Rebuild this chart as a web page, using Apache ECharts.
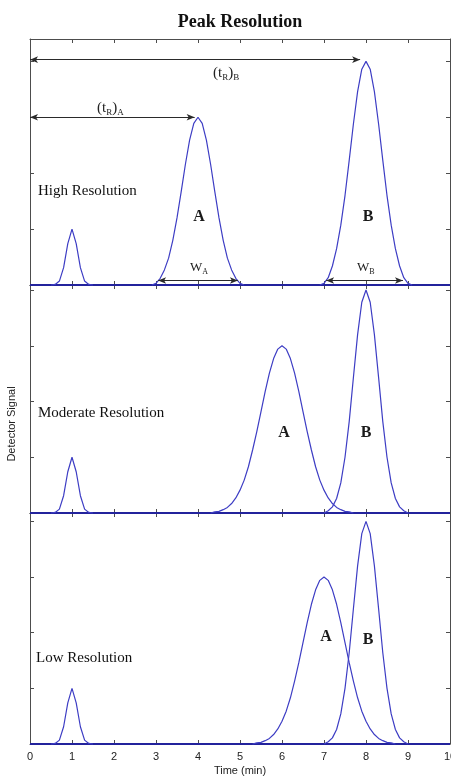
<!DOCTYPE html>
<html>
<head>
<meta charset="utf-8">
<script src="https://cdn.jsdelivr.net/npm/echarts@6/dist/echarts.min.js"></script>
<style>
  html, body { margin: 0; padding: 0; background: #fff; }
  #chart { width: 451px; height: 777px; }
</style>
</head>
<body>
<div id="chart"></div>
<script>
// unretained solute peak, same in all three panels
const peakT0 = [[0.5, 0], [0.6, 0.01], [0.7, 0.07], [0.8, 0.31], [0.9, 0.74], [1.0, 1.0],
  [1.1, 0.74], [1.2, 0.31], [1.3, 0.07], [1.4, 0.01], [1.5, 0]];

// high resolution panel
const highA = [[2.9, 0], [3.0, 0.03], [3.1, 0.12], [3.2, 0.27], [3.3, 0.48], [3.4, 0.80], [3.5, 1.20],
  [3.6, 1.67], [3.7, 2.16], [3.8, 2.59], [3.9, 2.89], [4.0, 3.0], [4.1, 2.89], [4.2, 2.59], [4.3, 2.16],
  [4.4, 1.67], [4.5, 1.20], [4.6, 0.80], [4.7, 0.48], [4.8, 0.27], [4.9, 0.12], [5.0, 0.03], [5.1, 0]];
const highB = [[6.9, 0], [7.0, 0.03], [7.1, 0.13], [7.2, 0.34], [7.3, 0.65], [7.4, 1.07], [7.5, 1.60],
  [7.6, 2.23], [7.7, 2.88], [7.8, 3.46], [7.9, 3.86], [8.0, 4.0], [8.1, 3.86], [8.2, 3.46], [8.3, 2.88],
  [8.4, 2.23], [8.5, 1.60], [8.6, 1.07], [8.7, 0.65], [8.8, 0.34], [8.9, 0.13], [9.0, 0.03], [9.1, 0]];

// moderate resolution panel
const modA = [[4.3, 0], [4.4, 0.02], [4.5, 0.03], [4.6, 0.06], [4.7, 0.10], [4.8, 0.17], [4.9, 0.27],
  [5.0, 0.41], [5.1, 0.59], [5.2, 0.83], [5.3, 1.13], [5.4, 1.46], [5.5, 1.82], [5.6, 2.18], [5.7, 2.51],
  [5.8, 2.77], [5.9, 2.94], [6.0, 3.0], [6.1, 2.94], [6.2, 2.77], [6.3, 2.51], [6.4, 2.18], [6.5, 1.82],
  [6.6, 1.46], [6.7, 1.13], [6.8, 0.83], [6.9, 0.59], [7.0, 0.41], [7.1, 0.27], [7.2, 0.17], [7.3, 0.10],
  [7.4, 0.06], [7.5, 0.03], [7.6, 0.02], [7.7, 0]];
const modB = [[7.0, 0], [7.1, 0.04], [7.2, 0.11], [7.3, 0.26], [7.4, 0.54], [7.5, 1.00], [7.6, 1.64],
  [7.7, 2.43], [7.8, 3.20], [7.9, 3.78], [8.0, 4.0], [8.1, 3.78], [8.2, 3.20], [8.3, 2.43], [8.4, 1.64],
  [8.5, 1.00], [8.6, 0.54], [8.7, 0.26], [8.8, 0.11], [8.9, 0.04], [9.0, 0]];

// low resolution panel
const lowA = [[5.3, 0], [5.4, 0.02], [5.5, 0.03], [5.6, 0.06], [5.7, 0.10], [5.8, 0.17], [5.9, 0.27],
  [6.0, 0.41], [6.1, 0.59], [6.2, 0.83], [6.3, 1.13], [6.4, 1.46], [6.5, 1.82], [6.6, 2.18], [6.7, 2.51],
  [6.8, 2.77], [6.9, 2.94], [7.0, 3.0], [7.1, 2.94], [7.2, 2.77], [7.3, 2.51], [7.4, 2.18], [7.5, 1.82],
  [7.6, 1.46], [7.7, 1.13], [7.8, 0.83], [7.9, 0.59], [8.0, 0.41], [8.1, 0.27], [8.2, 0.17], [8.3, 0.10],
  [8.4, 0.06], [8.5, 0.03], [8.6, 0.02], [8.7, 0]];
const lowB = [[7.0, 0], [7.1, 0.04], [7.2, 0.11], [7.3, 0.26], [7.4, 0.54], [7.5, 1.00], [7.6, 1.64],
  [7.7, 2.43], [7.8, 3.20], [7.9, 3.78], [8.0, 4.0], [8.1, 3.78], [8.2, 3.20], [8.3, 2.43], [8.4, 1.64],
  [8.5, 1.00], [8.6, 0.54], [8.7, 0.26], [8.8, 0.11], [8.9, 0.04], [9.0, 0]];

const baseline = [[0, 0], [10, 0]];

// retention time and width arrows (top panel)
const arrowTrA = [[0, 3.0], [3.92, 3.0]];
const arrowTrB = [[0, 4.03], [7.86, 4.03]];
const arrowWA = [[3.05, 0.08], [4.95, 0.08]];
const arrowWB = [[7.05, 0.08], [8.88, 0.08]];

const panelNames = ['High Resolution', 'Moderate Resolution', 'Low Resolution'];
const panelMax = [4.4, 4.09, 4.15];
const panelSeries = [[peakT0, highA, highB], [peakT0, modA, modB], [peakT0, lowA, lowB]];

const gridTops = [39, 285, 513];
const gridHeights = [246, 228, 231];

const axisColor = '#4d4d4d';
const curveColor = '#3d3dc4';
const baseColor = '#23239c';
const serif = '"Liberation Serif", "DejaVu Serif", serif';
const sans = '"Liberation Sans", Arial, sans-serif';

const chart = echarts.init(document.getElementById('chart'), null, { renderer: 'canvas' });

const grid = [], xAxis = [], yAxis = [], series = [];

function frameAxis(extra) {
    return Object.assign({
        type: 'value',
        axisLine: { show: true, onZero: false, lineStyle: { color: axisColor, width: 1 } },
        axisTick: { show: true, inside: true, length: 4, lineStyle: { color: axisColor } },
        axisLabel: { show: false },
        splitLine: { show: false }
    }, extra);
}

for (let i = 0; i < 3; i++) {
    grid.push({
        left: 30, right: 1, top: gridTops[i], height: gridHeights[i],
        containLabel: false, outerBoundsMode: 'none'
    });
    xAxis.push(frameAxis({
        gridIndex: i, position: 'bottom', min: 0, max: 10, interval: 1,
        axisLabel: { show: i === 2, color: '#222', fontFamily: sans, fontSize: 11, margin: 7 }
    }));
    xAxis.push(frameAxis({ gridIndex: i, position: 'top', min: 0, max: 10, interval: 1 }));
    yAxis.push(frameAxis({ gridIndex: i, position: 'left', min: 0, max: panelMax[i], interval: 1 }));
    yAxis.push(frameAxis({ gridIndex: i, position: 'right', min: 0, max: panelMax[i], interval: 1 }));

    series.push({
        type: 'line', xAxisIndex: i * 2, yAxisIndex: i * 2, data: baseline,
        showSymbol: false, clip: false, silent: true, z: 3,
        lineStyle: { color: baseColor, width: 2 }
    });
    panelSeries[i].forEach(function (d) {
        series.push({
            type: 'line', xAxisIndex: i * 2, yAxisIndex: i * 2, data: d,
            showSymbol: false, clip: false, silent: true, z: 4,
            lineStyle: { color: curveColor, width: 1.2 }
        });
    });
}

function arrow(pts) {
    return [{ coord: pts[0] }, { coord: pts[1] }];
}

series.push({
    type: 'line', xAxisIndex: 0, yAxisIndex: 0, data: [],
    markLine: {
        silent: true,
        symbol: ['arrow', 'arrow'],
        symbolSize: [5, 8],
        label: { show: false },
        lineStyle: { color: '#2a2a2a', width: 1, type: 'solid' },
        emphasis: { disabled: true },
        data: [arrow(arrowTrA), arrow(arrowTrB), arrow(arrowWA), arrow(arrowWB)]
    }
});

function txt(x, y, text, size, extra) {
    return {
        type: 'text', x: x, y: y, silent: true, z: 10,
        style: Object.assign({
            text: text, fontFamily: serif, fontSize: size, fill: '#111',
            align: 'left', verticalAlign: 'middle'
        }, extra || {})
    };
}

const subRich = {
    n: { fontFamily: serif, fontSize: 15, lineHeight: 18, fill: '#222' },
    s: { fontFamily: serif, fontSize: 9, verticalAlign: 'bottom', fill: '#222' }
};
const wRich = {
    n: { fontFamily: serif, fontSize: 13, lineHeight: 16, fill: '#222' },
    s: { fontFamily: serif, fontSize: 8, verticalAlign: 'bottom', fill: '#222' }
};

const peakLabel = { align: 'center', fontWeight: 'bold', fill: '#1a1a1a' };

const graphic = [
    txt(240, 22, 'Peak Resolution', 18, { align: 'center', fontWeight: 'bold' }),
    txt(38, 191, panelNames[0], 15),
    txt(38, 413, panelNames[1], 15),
    txt(36, 658, panelNames[2], 15),
    txt(199, 217, 'A', 16, peakLabel),
    txt(368, 217, 'B', 16, peakLabel),
    txt(284, 433, 'A', 16, peakLabel),
    txt(366, 433, 'B', 16, peakLabel),
    txt(326, 637, 'A', 16, peakLabel),
    txt(368, 640, 'B', 16, peakLabel),
    txt(97, 108, '{n|(t}{s|R}{n|)}{s|A}', 15, { rich: subRich }),
    txt(213, 73, '{n|(t}{s|R}{n|)}{s|B}', 15, { rich: subRich }),
    txt(190, 268, '{n|W}{s|A}', 13, { rich: wRich }),
    txt(357, 268, '{n|W}{s|B}', 13, { rich: wRich }),
    txt(240, 771, 'Time (min)', 11, { align: 'center', fontFamily: sans, fill: '#222' }),
    {
        type: 'text', x: 12, y: 424, rotation: Math.PI / 2, silent: true,
        style: {
            text: 'Detector Signal', fontFamily: sans, fontSize: 11, fill: '#222',
            align: 'center', verticalAlign: 'middle'
        }
    }
];

chart.setOption({
    animation: false,
    backgroundColor: '#ffffff',
    grid: grid,
    xAxis: xAxis,
    yAxis: yAxis,
    series: series,
    graphic: graphic
});
</script>
</body>
</html>
